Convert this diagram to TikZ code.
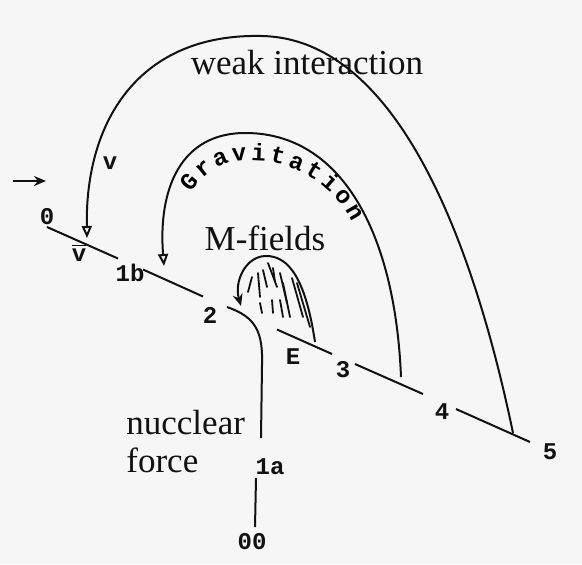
\documentclass[tikz,border=0pt]{standalone}
\usepackage{fontspec}
\setmainfont{Liberation Serif}
\newfontfamily\typew{Liberation Mono}
\usetikzlibrary{arrows.meta, decorations.text}
\definecolor{FDpaper}{HTML}{F6F6F6}
\definecolor{FDink}{HTML}{111111}
\newcommand\fdmono{\typew\bfseries\fontsize{12}{14}\selectfont}
\tikzset{
  fdlbl/.style={inner sep=1pt, text=FDink, font=\fdmono},
  fdtxt/.style={inner sep=1pt, text=FDink, align=left, font=\fontsize{17.5}{19}\selectfont},
  fdline/.style={draw=FDink, line width=1pt},
  fdarr/.style={fdline, -{Triangle[open, length=6pt, width=5pt]}},
  fdarrf/.style={fdline, -{Stealth[length=6pt, width=5pt]}},
  fdhatch/.style={draw=FDink, line width=0.9pt, line cap=round},
}

\begin{document}
\begin{tikzpicture}[x=0.5pt, y=-0.5pt]
        \fill[FDpaper] (0,0) rectangle (582,564);
        \useasboundingbox (0,0) rectangle (582,564);
        % labels
        \node[fdlbl] (l0) at (47,217) {0};
        \node[fdlbl] (lv) at (110,163) {v};
        \node[fdlbl] (lvbar) at (79,253) {$\overline{\hbox{\fdmono v}}$};
        \node[fdlbl] (l1b) at (130,273) {1b};
        \node[fdlbl] (l2) at (210,315) {2};
        \node[fdlbl] (lE) at (293,357) {E};
        \node[fdlbl] (l3) at (343,370) {3};
        \node[fdlbl] (l4) at (442,412) {4};
        \node[fdlbl] (l5) at (550,452) {5};
        \node[fdlbl] (l1a) at (270,467) {1a};
        \node[fdlbl] (l00) at (252,542) {00};
        \node[fdtxt] (weak) at (307,63) {weak interaction};
        \node[fdtxt] (mfld) at (265,238) {M-fields};
        \node[fdtxt, anchor=west] (nucl) at (124,442) {nucclear\\force};
        % main line
        \coordinate (p0) at (47,227);
        \coordinate (p0e) at (118,258.5);
        \coordinate (p1b) at (143,269.5);
        \coordinate (p1be) at (203,296.5);
        \coordinate (p2) at (277,329.5);
        \coordinate (p2e) at (332,354);
        \coordinate (p3) at (355,364);
        \coordinate (p3e) at (423,394);
        \coordinate (p4) at (456,409);
        \coordinate (p4e) at (530,442);
        \draw[fdline] (p0) -- (p0e);
        \draw[fdline] (p1b) -- (p1be);
        \draw[fdline] (p2) -- (p2e);
        \draw[fdline] (p3) -- (p3e);
        \draw[fdline] (p4) -- (p4e);
        % incoming arrow
        \coordinate (in0) at (13,181);
        \coordinate (in1) at (46,181);
        \draw[fdarrf] (in0) -- (in1);
        % weak interaction
        \coordinate (w5) at (513,433);
        \coordinate (wt) at (262,36);
        \coordinate (w0) at (87,238);
        \draw[fdarr] (w5) .. controls (475,250) and (400,39) .. (wt) .. controls (140,33) and (85,120) .. (w0);
        % gravitation
        \coordinate (g3) at (401,377);
        \coordinate (gt) at (247,133);
        \coordinate (g1) at (164,266);
        \draw[fdarr] (g3) .. controls (395,230) and (340,134) .. (gt) .. controls (180,132) and (158,190) .. (g1);
        \path[decorate, decoration={text along path, text align={fit to path}, raise=-3.5pt,
            text={|\fdmono|Gravitation}}]
          (185,188) .. controls (210,156) and (230,153) .. (257,154) .. controls (290,155) and (335,173) .. (358,219);
        % M-fields
        \coordinate (m1) at (315,342);
        \coordinate (mt) at (265,256);
        \coordinate (m2) at (241,306);
        \draw[fdarrf] (m1) .. controls (306,282) and (290,255) .. (mt) .. controls (245,257) and (234,282) .. (m2);
        \foreach \xa/\ya/\xb/\yb in {252/277/248/292, 258/273/260/297, 263/270/267/287, 268/263/277/287,
            273/268/275/282, 280/273/287/303, 283/283/290/317, 292/278/303/317, 297/283/310/327,
            260/303/262/313, 272/300/273/313, 280/300/283/317}
          \draw[fdhatch] (\xa,\ya) -- (\xb,\yb);
        % nuclear force
        \coordinate (nu0) at (227,307);
        \coordinate (nu1) at (261,438);
        \coordinate (nu2) at (256,478);
        \coordinate (nu3) at (255,527);
        \draw[fdline] (nu0) .. controls (256,317) and (263,332) .. (262,365) -- (nu1);
        \draw[fdline] (nu2) -- (nu3);
      \end{tikzpicture}
\end{document}
